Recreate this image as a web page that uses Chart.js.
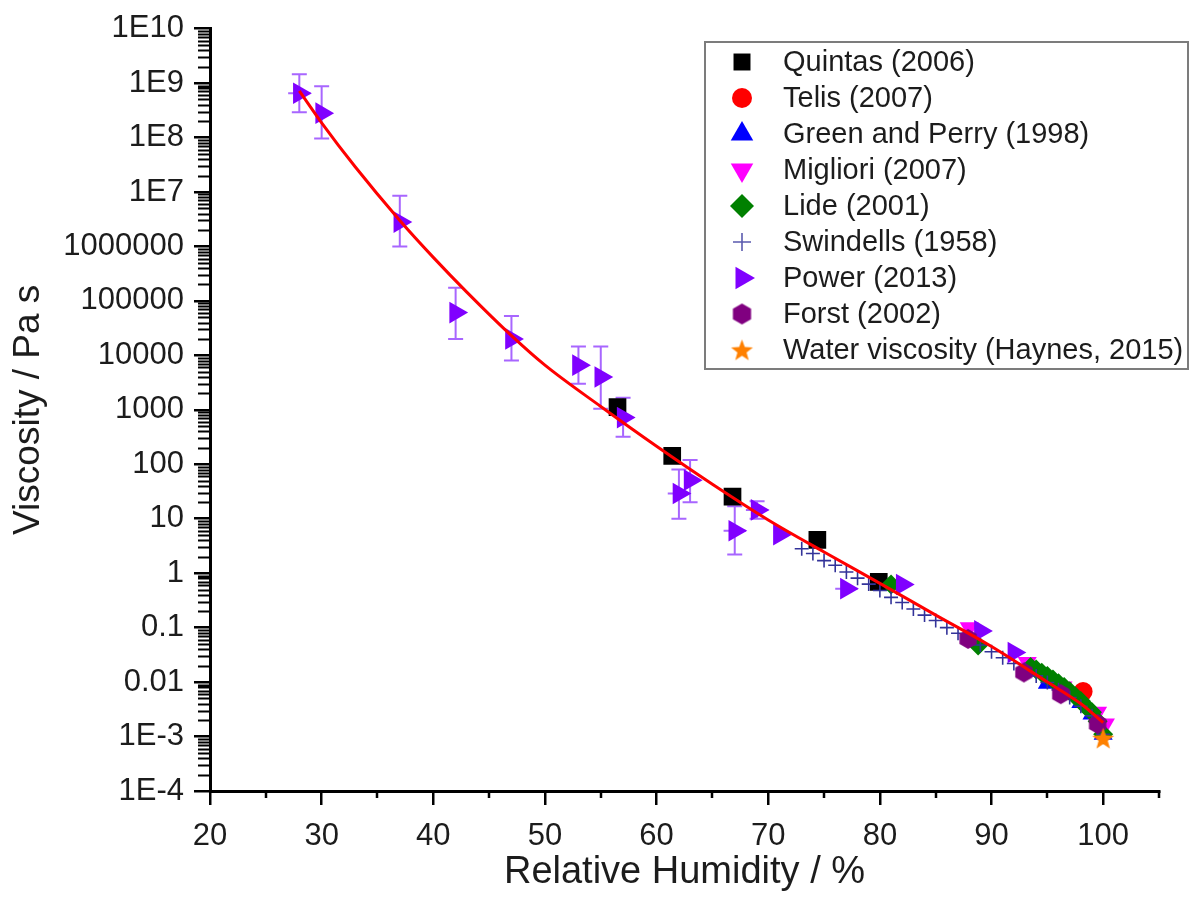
<!DOCTYPE html>
<html>
<head>
<meta charset="utf-8">
<script src="https://cdn.jsdelivr.net/npm/chart.js@4/dist/chart.umd.min.js"></script>
<style>
html,body{margin:0;padding:0;background:#fff;}
#wrap{width:1190px;height:906px;position:relative;}
canvas{display:block;}
</style>
</head>
<body>
<div id="wrap"><canvas id="c" width="1190" height="906"></canvas></div>
<script>
// ---------------- data ----------------
const xTickValues = [20, 30, 40, 50, 60, 70, 80, 90, 100];
const xMinorTickValues = [25, 35, 45, 55, 65, 75, 85, 95, 105];
const yTickValues = [1e-4, 1e-3, 0.01, 0.1, 1, 10, 100, 1000, 1e4, 1e5, 1e6, 1e7, 1e8, 1e9, 1e10];
const yTickLabels = ['1E-4', '1E-3', '0.01', '0.1', '1', '10', '100', '1000', '10000', '100000', '1000000', '1E7', '1E8', '1E9', '1E10'];

const seriesNames = ['Quintas (2006)', 'Telis (2007)', 'Green and Perry (1998)', 'Migliori (2007)', 'Lide (2001)',
  'Swindells (1958)', 'Power (2013)', 'Forst (2002)', 'Water viscosity (Haynes, 2015)'];

const quintasRH = [56.5, 61.4, 66.8, 74.4, 79.9];
const quintasVisc = [1120, 143, 25.5, 4.1, 0.69];

const telisRH = [98.2];
const telisVisc = [0.0067];

const greenPerryRH = [95, 96.5, 98, 99, 100];
const greenPerryVisc = [0.0095, 0.0068, 0.0042, 0.0026, 0.0011];

const miglioriRH = [88, 93.2, 96.4, 99.5, 100.2];
const miglioriVisc = [0.1, 0.023, 0.0081, 0.0028, 0.0017];

const lideRH = [81, 88.8, 93.5, 94, 94.5, 95, 95.5, 96, 96.5, 97, 97.5, 98, 98.5, 99, 99.5, 100];
const lideVisc = [0.62, 0.047, 0.019, 0.017, 0.0148, 0.0129, 0.0112, 0.0095, 0.0081, 0.0068, 0.0055, 0.0045, 0.0035, 0.0028, 0.0019, 0.0011];

const swindellsRH = [73, 74, 75, 76, 77, 78, 79, 80, 81, 82, 83, 84, 85, 86, 87, 88, 89, 90, 91, 92, 93, 94, 95, 96, 97, 98, 99, 100];
const swindellsVisc = [2.8, 2.3, 1.7, 1.4, 1.05, 0.81, 0.63, 0.48, 0.36, 0.29, 0.22, 0.17, 0.135, 0.10, 0.079, 0.063,
  0.048, 0.036, 0.028, 0.022, 0.017, 0.013, 0.0098, 0.0072, 0.0052, 0.0036, 0.0024, 0.0011];

const powerRH = [28, 30, 37, 42, 47, 53, 55, 57, 62, 63, 67, 69, 71, 77, 82, 89, 92];
const powerVisc = [6.5e8, 2.8e8, 2.8e6, 6.1e4, 2.0e4, 6600, 4000, 720, 29, 51, 6.0, 14.5, 5.1, 0.52, 0.62, 0.087, 0.035];
const powerErrHigh = [1.45e9, 8.7e8, 8.5e6, 1.75e5, 5.3e4, 1.45e4, 1.45e4, 1660, 80, 120, 17, 21, null, null, null, null, null];
const powerErrLow = [2.9e8, 9.6e7, 1.0e6, 2.0e4, 8000, 3000, 1050, 320, 10, 20, 2.2, 10, null, null, null, null, null];
const powerErrX = [1, 0, 0, 0, 0, 0, 0, 0, 1, 0, 1, 1, 0, 1, 0, 0, 0];

const forstRH = [87.9, 92.9, 96.2, 99.5];
const forstVisc = [0.062, 0.015, 0.006, 0.0017];

const waterRH = [100];
const waterVisc = [0.00093];

const fitRH = [28, 30, 33, 37, 40, 43, 47, 50, 55, 60, 65, 70, 75, 80, 85, 90, 95, 98, 100];
const fitVisc = [7.2e8, 1.86e8, 2.9e7, 3.0e6, 6.3e5, 1.45e5, 2.3e4, 6600, 1150, 214, 43, 9.5, 2.45, 0.65, 0.17, 0.045, 0.010, 0.0040, 0.0018];

// ---------------- marker images ----------------
function makeHexagon(color, r) {
  const c = document.createElement('canvas');
  const s = Math.ceil(2 * r + 2);
  c.width = s; c.height = s;
  const g = c.getContext('2d');
  g.fillStyle = color;
  g.beginPath();
  for (let k = 0; k < 6; k++) {
    const a = -Math.PI / 2 + k * Math.PI / 3;
    const px = s / 2 + r * Math.cos(a), py = s / 2 + r * Math.sin(a);
    if (k === 0) g.moveTo(px, py); else g.lineTo(px, py);
  }
  g.closePath(); g.fill();
  return c;
}
function makeStar(color, ro, ri) {
  const c = document.createElement('canvas');
  const s = Math.ceil(2 * ro + 2);
  c.width = s; c.height = s;
  const g = c.getContext('2d');
  g.fillStyle = color;
  g.beginPath();
  for (let k = 0; k < 10; k++) {
    const a = -Math.PI / 2 + k * Math.PI / 5;
    const r = k % 2 === 0 ? ro : ri;
    const px = s / 2 + r * Math.cos(a), py = s / 2 + r * Math.sin(a) + 1;
    if (k === 0) g.moveTo(px, py); else g.lineTo(px, py);
  }
  g.closePath(); g.fill();
  return c;
}
const hexImg = makeHexagon('#800080', 10);
const starImg = makeStar('#FF8000', 11.5, 4.8);
const hexImgLegend = makeHexagon('#800080', 10.5);
const starImgLegend = makeStar('#FF8000', 11.5, 4.8);

function pts(xs, ys) { return xs.map((x, i) => ({ x: x, y: ys[i] })); }

const FONT = '"Liberation Sans", Arial, sans-serif';
const TXT = '#1c1c1c';

const datasets = [
  { label: seriesNames[0], data: pts(quintasRH, quintasVisc), pointStyle: 'rect', pointRadius: 12.5,
    backgroundColor: '#000000', borderColor: '#000000', borderWidth: 0, order: 9,
    legendStyle: { pointStyle: 'rect', radius: 12, rotation: 0, color: '#000000' } },
  { label: seriesNames[1], data: pts(telisRH, telisVisc), pointStyle: 'circle', pointRadius: 9.5,
    backgroundColor: '#FF0000', borderColor: '#FF0000', borderWidth: 0, order: 8,
    legendStyle: { pointStyle: 'circle', radius: 10, rotation: 0, color: '#FF0000' } },
  { label: seriesNames[2], data: pts(greenPerryRH, greenPerryVisc), pointStyle: 'triangle', pointRadius: 11,
    backgroundColor: '#0000FF', borderColor: '#0000FF', borderWidth: 0, order: 7,
    legendStyle: { pointStyle: 'triangle', radius: 13, rotation: 0, color: '#0000FF' } },
  { label: seriesNames[3], data: pts(miglioriRH, miglioriVisc), pointStyle: 'triangle', pointRotation: 180, pointRadius: 11,
    backgroundColor: '#FF00FF', borderColor: '#FF00FF', borderWidth: 0, order: 6,
    legendStyle: { pointStyle: 'triangle', radius: 13, rotation: 180, color: '#FF00FF' } },
  { label: seriesNames[4], data: pts(lideRH, lideVisc), pointStyle: 'rectRot', pointRadius: 10,
    backgroundColor: '#008000', borderColor: '#008000', borderWidth: 0, order: 5,
    legendStyle: { pointStyle: 'rectRot', radius: 12, rotation: 0, color: '#008000' } },
  { label: seriesNames[5], data: pts(swindellsRH, swindellsVisc), pointStyle: 'cross', pointRadius: 7,
    backgroundColor: '#333399', borderColor: '#333399', borderWidth: 1.6, order: 4,
    legendStyle: { pointStyle: 'cross', radius: 9, rotation: 0, color: '#5a5aae', lineWidth: 1.6 } },
  { label: seriesNames[6], data: pts(powerRH, powerVisc), pointStyle: 'triangle', pointRotation: 90, pointRadius: 12.5,
    backgroundColor: '#8000FF', borderColor: '#8000FF', borderWidth: 0, order: 3,
    legendStyle: { pointStyle: 'triangle', radius: 13, rotation: 90, color: '#8000FF' } },
  { label: seriesNames[7], data: pts(forstRH, forstVisc), pointStyle: hexImg, pointRadius: 10,
    backgroundColor: '#800080', borderColor: '#800080', borderWidth: 0, order: 2,
    legendStyle: { pointStyle: hexImgLegend, radius: 10, rotation: 0, color: '#800080' } },
  { label: seriesNames[8], data: pts(waterRH, waterVisc), pointStyle: starImg, pointRadius: 11,
    backgroundColor: '#FF8000', borderColor: '#FF8000', borderWidth: 0, order: 1,
    legendStyle: { pointStyle: starImgLegend, radius: 11, rotation: 0, color: '#FF8000' } },
  { label: 'fit', type: 'line', data: pts(fitRH, fitVisc), showLine: true, pointRadius: 0,
    borderColor: '#FF0000', borderWidth: 3, fill: false, cubicInterpolationMode: 'monotone', order: 0,
    isFit: true }
];

// ---------------- plugins ----------------
const minorTicksPlugin = {
  id: 'minorTicks',
  afterDraw(chart) {
    const ctx = chart.ctx;
    const xs = chart.scales.x, ys = chart.scales.y;
    const area = chart.chartArea;
    ctx.save();
    ctx.strokeStyle = '#000';
    ctx.lineWidth = 2.5;
    ctx.beginPath();
    xMinorTickValues.forEach(v => {
      const px = Math.round(xs.getPixelForValue(v));
      ctx.moveTo(px, area.bottom);
      ctx.lineTo(px, area.bottom + 7);
    });
    ctx.stroke();
    ctx.lineWidth = 1.8;
    ctx.beginPath();
    for (let k = 0; k < yTickValues.length - 1; k++) {
      const base = yTickValues[k];
      for (let m = 2; m <= 9; m++) {
        const py = Math.round(ys.getPixelForValue(base * m)) + 0.5;
        ctx.moveTo(area.left - 12, py);
        ctx.lineTo(area.left, py);
      }
    }
    ctx.stroke();
    ctx.restore();
  }
};

const errorBarsPlugin = {
  id: 'powerErrorBars',
  beforeDatasetsDraw(chart) {
    const ctx = chart.ctx;
    const xs = chart.scales.x, ys = chart.scales.y;
    ctx.save();
    ctx.strokeStyle = '#A866FF';
    ctx.lineWidth = 2;
    ctx.beginPath();
    powerRH.forEach((rh, i) => {
      const px = xs.getPixelForValue(rh);
      const py = ys.getPixelForValue(powerVisc[i]);
      if (powerErrHigh[i] != null) {
        const pt = ys.getPixelForValue(powerErrHigh[i]);
        ctx.moveTo(px, py); ctx.lineTo(px, pt);
        ctx.moveTo(px - 7.5, pt); ctx.lineTo(px + 7.5, pt);
      }
      if (powerErrLow[i] != null) {
        const pb = ys.getPixelForValue(powerErrLow[i]);
        ctx.moveTo(px, py); ctx.lineTo(px, pb);
        ctx.moveTo(px - 7.5, pb); ctx.lineTo(px + 7.5, pb);
      }
      if (powerErrX[i]) {
        const pl = xs.getPixelForValue(rh - powerErrX[i]);
        const pr = xs.getPixelForValue(rh + powerErrX[i]);
        ctx.moveTo(pl, py); ctx.lineTo(pr, py);
      }
    });
    ctx.stroke();
    ctx.restore();
  }
};

function drawLegendMarker(ctx, st, x, y) {
  ctx.save();
  ctx.fillStyle = st.color;
  ctx.strokeStyle = st.color;
  ctx.lineWidth = st.lineWidth || 0;
  if (Chart.helpers && Chart.helpers.drawPoint) {
    Chart.helpers.drawPoint(ctx, { pointStyle: st.pointStyle, radius: st.radius, rotation: st.rotation, borderWidth: st.lineWidth || 0 }, x, y);
  }
  ctx.restore();
}

const boxLegendPlugin = {
  id: 'boxLegend',
  afterDraw(chart) {
    const ctx = chart.ctx;
    ctx.save();
    ctx.fillStyle = '#ffffff';
    ctx.fillRect(705, 42, 483, 327);
    ctx.strokeStyle = '#7c7c7c';
    ctx.lineWidth = 2;
    ctx.strokeRect(705, 42, 483, 327);
    const items = chart.data.datasets.filter(d => !d.isFit);
    items.forEach((d, i) => {
      const y = 62 + i * 36;
      drawLegendMarker(ctx, d.legendStyle, 742, y);
      ctx.fillStyle = TXT;
      ctx.font = '29px ' + FONT;
      ctx.textAlign = 'left';
      ctx.textBaseline = 'middle';
      ctx.fillText(d.label, 783, y + 1);
    });
    ctx.restore();
  }
};

// ---------------- chart ----------------
new Chart(document.getElementById('c'), {
  type: 'scatter',
  data: { datasets: datasets },
  options: {
    responsive: false,
    animation: false,
    devicePixelRatio: 1,
    layout: { padding: { left: 0, top: 22, right: 31, bottom: 0 } },
    plugins: { legend: { display: false }, tooltip: { enabled: false } },
    elements: { point: { borderWidth: 0 } },
    scales: {
      x: {
        type: 'linear', position: 'bottom', min: 20, max: 105,
        afterBuildTicks: s => { s.ticks = xTickValues.map(v => ({ value: v })); },
        afterFit: s => { s.height = 115; },
        ticks: { font: { family: FONT, size: 31 }, color: TXT, padding: 13, maxRotation: 0, autoSkip: false },
        grid: { display: true, drawOnChartArea: false, drawTicks: true, tickLength: 14, color: '#000', lineWidth: 2.5 },
        border: { display: true, color: '#000', width: 3 },
        title: { display: true, text: 'Relative Humidity / %', color: TXT, font: { family: FONT, size: 38 }, padding: { top: 0, bottom: 11 } }
      },
      y: {
        type: 'logarithmic', position: 'left', min: 1e-4, max: 1e10,
        afterBuildTicks: s => { s.ticks = yTickValues.map(v => ({ value: v })); },
        afterFit: s => { s.width = 210; },
        ticks: {
          font: { family: FONT, size: 31 }, color: TXT, padding: 10, autoSkip: false,
          callback: (v) => {
            const i = yTickValues.findIndex(t => Math.abs(Math.log10(t) - Math.log10(v)) < 1e-6);
            return i >= 0 ? yTickLabels[i] : '';
          }
        },
        grid: { display: true, drawOnChartArea: false, drawTicks: true, tickLength: 16, color: '#000', lineWidth: 2.5 },
        border: { display: true, color: '#000', width: 3 },
        title: { display: true, text: 'Viscosity / Pa s', color: TXT, font: { family: FONT, size: 37 }, padding: { top: 7, bottom: 0 } }
      }
    }
  },
  plugins: [errorBarsPlugin, minorTicksPlugin, boxLegendPlugin]
});
</script>
</body>
</html>
